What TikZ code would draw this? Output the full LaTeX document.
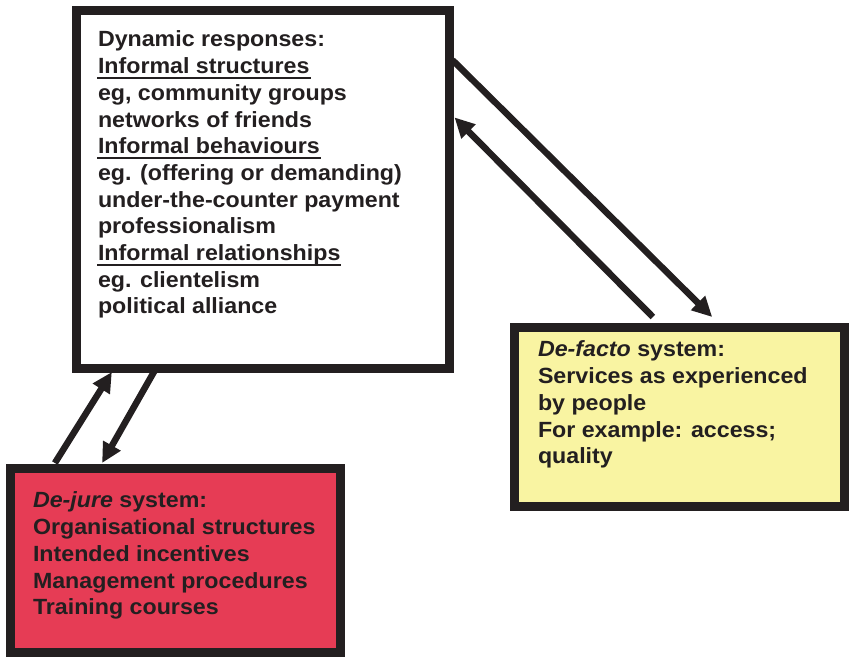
\documentclass[tikz,border=0pt]{standalone}
\usepackage{fontspec}
\setmainfont{Liberation Sans}[FakeStretch=1.055]
\usetikzlibrary{arrows.meta,calc}
\definecolor{ink}{HTML}{231F20}
\definecolor{redfill}{HTML}{E63C55}
\definecolor{yelfill}{HTML}{F9F4A2}
\newcommand\myul[1]{\setbox0\hbox{#1}\rlap{\hspace*{-1pt}\rule[-5pt]{\dimexpr\wd0+2pt\relax}{2pt}}\box0}
\begin{document}
\begin{tikzpicture}[x=1pt,y=-1pt,
  box/.style={draw=ink,line width=9pt,outer sep=0pt,inner sep=0pt,rectangle},
  txt/.style={anchor=north west,inner sep=0pt,outer sep=0pt,align=left,text=ink,
    font=\fontsize{22}{26.7}\selectfont\bfseries},
  arr/.style={draw=ink,line width=6.5pt,-{Triangle[length=20pt,width=19pt]}}]
\useasboundingbox (0,0) rectangle (849,659);
% boxes
\node[box,fill=white,minimum width=373.5pt,minimum height=358pt] (dyn) at (262.75,189) {};
\node[box,fill=redfill,minimum width=330pt,minimum height=184pt] (jure) at (175,560) {};
\node[box,fill=yelfill,minimum width=329.5pt,minimum height=179pt] (facto) at (679.25,416.5) {};
% texts
\node[txt] (dyntxt) at (98,31) {Dynamic responses:\\
\myul{Informal structures}\\
eg, community groups\\
networks of friends\\
\myul{Informal behaviours}\\
eg. (offering or demanding)\\
under-the-counter payment\\
professionalism\\
\myul{Informal relationships}\\
eg. clientelism\\
political alliance};
\node[txt] (juretxt) at (33,492) {\textit{De-jure} system:\\
Organisational structures\\
Intended incentives\\
Management procedures\\
Training courses};
\node[txt] (factotxt) at (538,341) {\textit{De-facto} system:\\
Services as experienced\\
by people\\
For example: access;\\
quality};
% connector end points
\coordinate (a1s) at ($(dyn.north east)!0.14!(dyn.south east)+(3,0)$);
\coordinate (a1e) at ($(facto.north west)!0.60!(facto.north east)+(0,-10)$);
\coordinate (a2s) at ($(facto.north west)!0.42!(facto.north east)+(0,-10)$);
\coordinate (a2e) at ($(dyn.north east)!0.30!(dyn.south east)+(5,0)$);
\coordinate (b1s) at ($(jure.north west)!0.136!(jure.north east)+(0,-5)$);
\coordinate (b1e) at ($(dyn.south west)!0.096!(dyn.south east)+(0,4)$);
\coordinate (b2s) at ($(dyn.south west)!0.21!(dyn.south east)+(0,3)$);
\coordinate (b2e) at ($(jure.north west)!0.279!(jure.north east)+(0,-5)$);
% arrows
\draw[arr] (a1s) -- (a1e);
\draw[arr] (a2s) -- (a2e);
\draw[arr] (b1s) -- (b1e);
\draw[arr] (b2s) -- (b2e);
\end{tikzpicture}
\end{document}
